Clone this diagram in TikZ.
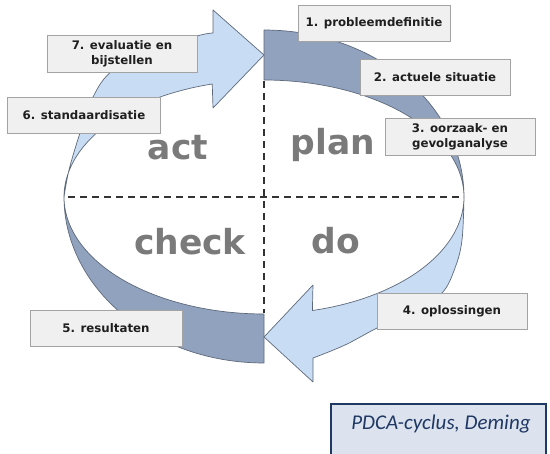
\documentclass[tikz,border=0pt]{standalone}
\usepackage{fontspec}
\setmainfont{DejaVu Sans}
\newfontfamily\carlito{Carlito}
\definecolor{darkband}{HTML}{91A2BF}
\definecolor{lightband}{HTML}{C8DCF4}
\definecolor{edgecol}{HTML}{5E6A7A}
\definecolor{boxfill}{HTML}{F0F0F0}
\definecolor{boxline}{HTML}{A3A3A3}
\definecolor{bigtext}{HTML}{7A7A7A}
\definecolor{navy}{HTML}{1F3864}
\definecolor{pdcafill}{HTML}{DCE3EE}
\begin{document}
\begin{tikzpicture}[x=1pt,y=-1pt,
  bandpart/.style={draw=edgecol, line width=0.7pt, line join=round},
  stepbox/.style={draw=boxline, fill=boxfill, line width=0.8pt,
    font=\bfseries\fontsize{11.8}{14.5}\selectfont, text=black!88,
    align=center, inner sep=0pt, minimum width=150pt, minimum height=36pt},
  phase/.style={font=\bfseries\fontsize{34.5}{40}\selectfont, text=bigtext, anchor=base},
  divider/.style={draw=black!80, line width=1.8pt, dash pattern=on 7pt off 5pt}]
\useasboundingbox (0,0) rectangle (550,454);
\fill[white] (0,0) rectangle (550,454);
% dark bands (plan, check)
\filldraw[bandpart, fill=darkband]
  plot[domain=270:360, samples=60, variable=\t] ({264+200*cos(\t)},{197+167*sin(\t)})
  -- plot[domain=360:270, samples=60, variable=\t] ({264+200*cos(\t)},{197+117*sin(\t)})
  -- cycle;
\filldraw[bandpart, fill=darkband]
  plot[domain=90:180, samples=60, variable=\t] ({264+200*cos(\t)},{197+166*sin(\t)})
  -- plot[domain=180:90, samples=60, variable=\t] ({264+200*cos(\t)},{197+117*sin(\t)})
  -- cycle;
% light arrows (act, do)
\filldraw[bandpart, fill=lightband]
  plot[domain=180:255, samples=50, variable=\t] ({264+200*cos(\t)},{197+117*sin(\t)})
  -- (213,108) -- (264,55) -- (213,10) -- (213,33)
  -- plot[smooth, tension=0.6] coordinates {(213,33) (197,36) (150,51) (112,71) (93,97) (80,133) (69,170) (64,197)}
  -- cycle;
\filldraw[bandpart, fill=lightband]
  plot[domain=0:76, samples=50, variable=\t] ({264+200*cos(\t)},{197+117*sin(\t)})
  -- (313,285) -- (264,337) -- (313,382) -- (313,358)
  -- plot[smooth, tension=0.6] coordinates {(313,358) (345,345) (377,328) (415,310) (442,293) (455,268) (462,240) (464,197)}
  -- cycle;
% dividers
\coordinate (hl) at (68,197);
\coordinate (hr) at (461,197);
\coordinate (vt) at (264,81);
\coordinate (vb) at (264,313);
\draw[divider] (hl) -- (hr);
\draw[divider] (vt) -- (vb);
% phase words
\node[phase] (act) at (178,160) {act};
\node[phase] (plan) at (333,155) {plan};
\node[phase] (check) at (190,255) {check};
\node[phase] (do) at (336,254) {do};
% step boxes
\node[stepbox, minimum width=152pt] (s1) at (374,23) {1. probleemdefinitie};
\node[stepbox] (s2) at (435,77) {2. actuele situatie};
\node[stepbox, minimum height=37pt] (s3) at (460,137) {3. oorzaak- en\\gevolganalyse};
\node[stepbox] (s4) at (452,311) {4. oplossingen};
\node[stepbox, minimum width=152pt] (s5) at (106,328) {5. resultaten};
\node[stepbox, minimum width=153pt] (s6) at (84,115) {6. standaardisatie};
\node[stepbox, minimum height=37pt] (s7) at (122,54) {7. evaluatie en\\bijstellen};
% caption box
\draw[draw=navy, fill=pdcafill, line width=1.4pt] (331,404) rectangle (546,470);
\node[font=\carlito\itshape\fontsize{21}{24}\selectfont, text=navy] (cap) at (441,424) {PDCA-cyclus, Deming};
\end{tikzpicture}
\end{document}
